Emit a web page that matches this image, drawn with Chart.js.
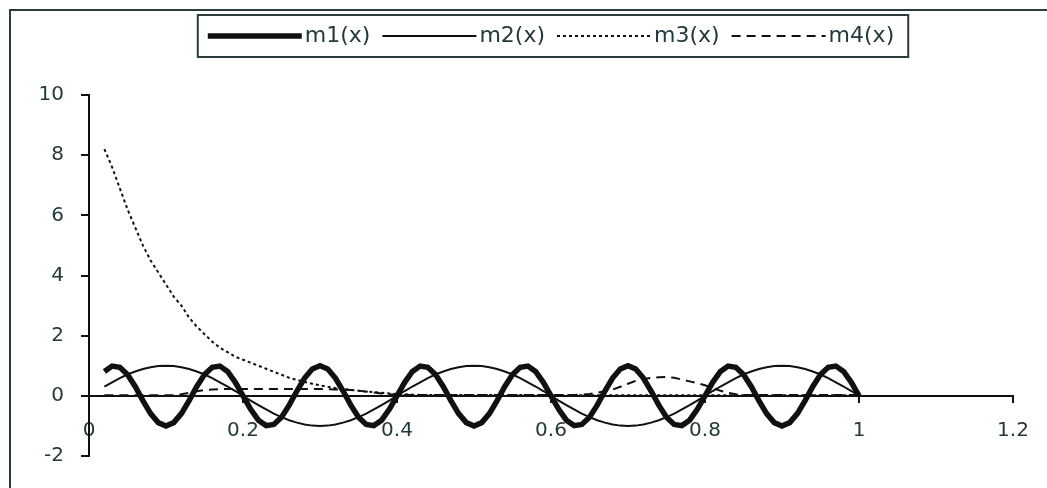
<!DOCTYPE html>
<html>
<head>
<meta charset="utf-8">
<script src="https://cdn.jsdelivr.net/npm/chart.js@4.4.1/dist/chart.umd.min.js"></script>
<style>
  html, body { margin: 0; padding: 0; background: #fff; overflow: hidden; }
  #frame { position: absolute; left: 9px; top: 9px; width: 1200px; height: 600px;
           border-left: 2px solid #2a3c3c; border-top: 2px solid #2a3c3c; }
  #wrap { position: absolute; left: 0; top: 0; width: 1047px; height: 488px; }
</style>
</head>
<body>
<div id="frame"></div>
<div id="wrap"><canvas id="lineChart"></canvas></div>
<script>

// DATA #######################################################################

var seriesNames = ["m1(x)", "m2(x)", "m3(x)", "m4(x)"];

var xs = [0.02, 0.03, 0.04, 0.05, 0.06, 0.07, 0.08, 0.09, 0.10, 0.11,
    0.12, 0.13, 0.14, 0.15, 0.16, 0.17, 0.18, 0.19, 0.20, 0.21,
    0.22, 0.23, 0.24, 0.25, 0.26, 0.27, 0.28, 0.29, 0.30, 0.31,
    0.32, 0.33, 0.34, 0.35, 0.36, 0.37, 0.38, 0.39, 0.40, 0.41,
    0.42, 0.43, 0.44, 0.45, 0.46, 0.47, 0.48, 0.49, 0.50, 0.51,
    0.52, 0.53, 0.54, 0.55, 0.56, 0.57, 0.58, 0.59, 0.60, 0.61,
    0.62, 0.63, 0.64, 0.65, 0.66, 0.67, 0.68, 0.69, 0.70, 0.71,
    0.72, 0.73, 0.74, 0.75, 0.76, 0.77, 0.78, 0.79, 0.80, 0.81,
    0.82, 0.83, 0.84, 0.85, 0.86, 0.87, 0.88, 0.89, 0.90, 0.91,
    0.92, 0.93, 0.94, 0.95, 0.96, 0.97, 0.98, 0.99, 1.00];

var m1 = [0.81, 0.99, 0.95, 0.71, 0.31, -0.16, -0.59, -0.89, -1, -0.89,
    -0.59, -0.16, 0.31, 0.71, 0.95, 0.99, 0.81, 0.45, 0, -0.45,
    -0.81, -0.99, -0.95, -0.71, -0.31, 0.16, 0.59, 0.89, 1, 0.89,
    0.59, 0.16, -0.31, -0.71, -0.95, -0.99, -0.81, -0.45, 0, 0.45,
    0.81, 0.99, 0.95, 0.71, 0.31, -0.16, -0.59, -0.89, -1, -0.89,
    -0.59, -0.16, 0.31, 0.71, 0.95, 0.99, 0.81, 0.45, 0, -0.45,
    -0.81, -0.99, -0.95, -0.71, -0.31, 0.16, 0.59, 0.89, 1, 0.89,
    0.59, 0.16, -0.31, -0.71, -0.95, -0.99, -0.81, -0.45, 0, 0.45,
    0.81, 0.99, 0.95, 0.71, 0.31, -0.16, -0.59, -0.89, -1, -0.89,
    -0.59, -0.16, 0.31, 0.71, 0.95, 0.99, 0.81, 0.45, 0];

var m2 = [0.31, 0.45, 0.59, 0.71, 0.81, 0.89, 0.95, 0.99, 1, 0.99,
    0.95, 0.89, 0.81, 0.71, 0.59, 0.45, 0.31, 0.16, 0, -0.16,
    -0.31, -0.45, -0.59, -0.71, -0.81, -0.89, -0.95, -0.99, -1, -0.99,
    -0.95, -0.89, -0.81, -0.71, -0.59, -0.45, -0.31, -0.16, 0, 0.16,
    0.31, 0.45, 0.59, 0.71, 0.81, 0.89, 0.95, 0.99, 1, 0.99,
    0.95, 0.89, 0.81, 0.71, 0.59, 0.45, 0.31, 0.16, 0, -0.16,
    -0.31, -0.45, -0.59, -0.71, -0.81, -0.89, -0.95, -0.99, -1, -0.99,
    -0.95, -0.89, -0.81, -0.71, -0.59, -0.45, -0.31, -0.16, 0, 0.16,
    0.31, 0.45, 0.59, 0.71, 0.81, 0.89, 0.95, 0.99, 1, 0.99,
    0.95, 0.89, 0.81, 0.71, 0.59, 0.45, 0.31, 0.16, 0];

var m3 = [8.2, 7.6, 6.9, 6.2, 5.6, 5.0, 4.5, 4.1, 3.7, 3.3,
    3.0, 2.6, 2.3, 2.05, 1.8, 1.6, 1.45, 1.3, 1.2, 1.1,
    1.0, 0.9, 0.8, 0.7, 0.6, 0.53, 0.46, 0.4, 0.35, 0.3,
    0.26, 0.23, 0.2, 0.17, 0.14, 0.12, 0.1, 0.08, 0.06, 0.05,
    0.04, 0.03, 0.03, 0.03, 0.03, 0.03, 0.03, 0.03, 0.03, 0.03,
    0.03, 0.03, 0.03, 0.03, 0.03, 0.03, 0.03, 0.03, 0.03, 0.02,
    0.02, 0.02, 0.02, 0.02, 0.02, 0.02, 0.02, 0.02, 0.02, 0.02,
    0.02, 0.02, 0.02, 0.02, 0.02, 0.02, 0.02, 0.02, 0.02, 0.02,
    0.02, 0.02, 0.02, 0.02, 0.02, 0.02, 0.02, 0.02, 0.02, 0.02,
    0.02, 0.02, 0.02, 0.02, 0.02, 0.02, 0.02, 0.02, 0.02];

var m4 = [0.02, 0.02, 0.02, 0.02, 0.02, 0.02, 0.02, 0.02, 0.02, 0.02,
    0.05, 0.1, 0.15, 0.19, 0.21, 0.22, 0.23, 0.23, 0.23, 0.23,
    0.23, 0.23, 0.23, 0.23, 0.23, 0.23, 0.23, 0.23, 0.23, 0.22,
    0.21, 0.2, 0.19, 0.17, 0.14, 0.11, 0.08, 0.05, 0.03, 0.03,
    0.03, 0.03, 0.03, 0.03, 0.03, 0.03, 0.03, 0.03, 0.03, 0.03,
    0.03, 0.03, 0.03, 0.03, 0.03, 0.03, 0.03, 0.03, 0.03, 0.03,
    0.03, 0.03, 0.04, 0.06, 0.1, 0.15, 0.21, 0.3, 0.4, 0.5,
    0.56, 0.6, 0.62, 0.63, 0.6, 0.54, 0.48, 0.42, 0.35, 0.26,
    0.17, 0.1, 0.05, 0.03, 0.03, 0.03, 0.03, 0.03, 0.03, 0.03,
    0.03, 0.03, 0.03, 0.03, 0.03, 0.03, 0.03, 0.03, 0.03];

var xTicks = { min: 0, max: 1.2, step: 0.2 };
var yTicks = { min: -2, max: 10, step: 2 };


// CHART ######################################################################

var ink = "#111";
var textInk = "#243a3a";
var legendFont = 22;
var sampleWidth = 86;

function points(ys) {
    return xs.map(function (x, i) { return { x: x, y: ys[i] }; });
}

function line(label, ys, width, dash) {
    return {
        label: label,
        data: points(ys),
        borderColor: ink,
        backgroundColor: ink,
        borderWidth: width,
        borderDash: dash,
        pointRadius: 0,
        tension: 0
    };
}

// legend items keep their place, but the sample lines are drawn below
function legendLabels(chart) {
    var items = Chart.defaults.plugins.legend.labels.generateLabels(chart);
    items.forEach(function (item) {
        item.fillStyle = "rgba(0,0,0,0)";
        item.strokeStyle = "rgba(0,0,0,0)";
        item.lineWidth = 0;
    });
    return items;
}

// box around the legend and line samples, drawn from the legend's hit boxes
var legendFrame = {
    id: "legendFrame",
    beforeInit: function (chart) {
        var fit = chart.legend.fit;
        chart.legend.fit = function () {
            fit.call(this);
            this.height += 38;
        };
    },
    afterDraw: function (chart) {
        var boxes = chart.legend.legendHitBoxes;
        if (!boxes || !boxes.length) return;
        var left = Math.min.apply(null, boxes.map(function (b) { return b.left; }));
        var right = Math.max.apply(null, boxes.map(function (b) { return b.left + b.width; }));
        var top = boxes[0].top, bottom = boxes[0].top + boxes[0].height;
        var ctx = chart.ctx;
        ctx.save();
        ctx.strokeStyle = "#2a3c3c";
        ctx.lineWidth = 2;
        ctx.strokeRect(left - 10, top - 10, right - left + 24, bottom - top + 20);
        boxes.forEach(function (b, i) {
            var ds = chart.data.datasets[i];
            var y = b.top + b.height / 2;
            ctx.beginPath();
            ctx.setLineDash(ds.borderDash || []);
            ctx.lineWidth = ds.borderWidth;
            ctx.strokeStyle = ds.borderColor;
            ctx.moveTo(b.left, y);
            ctx.lineTo(b.left + sampleWidth + legendFont / 2 - 3, y);
            ctx.stroke();
        });
        ctx.restore();
    }
};

var ctx_line = document.getElementById("lineChart");
var myLineGraph = new Chart(ctx_line, {
    type: "line",
    data: {
        datasets: [
            line(seriesNames[0], m1, 5.5, []),
            line(seriesNames[1], m2, 2, []),
            line(seriesNames[2], m3, 2, [3, 3]),
            line(seriesNames[3], m4, 2, [9, 6])
        ]
    },
    options: {
        responsive: true,
        maintainAspectRatio: false,
        animation: false,
        layout: { padding: { left: 29, right: 34, top: 13, bottom: 32 } },
        plugins: {
            tooltip: { enabled: false },
            legend: {
                position: "top",
                fullSize: false,
                labels: {
                    boxWidth: sampleWidth,
                    boxHeight: legendFont,
                    padding: 12,
                    color: textInk,
                    font: { family: "'DejaVu Sans'", size: legendFont },
                    generateLabels: legendLabels
                }
            }
        },
        scales: {
            x: {
                type: "linear",
                position: { y: 0 },
                min: xTicks.min,
                max: xTicks.max,
                ticks: {
                    stepSize: xTicks.step,
                    padding: 17,
                    color: textInk,
                    font: { family: "'DejaVu Sans'", size: 20 },
                    callback: function (v) { return String(Math.round(v * 10) / 10); }
                },
                grid: { drawOnChartArea: false, drawTicks: true, tickLength: 6, color: ink, lineWidth: 2 },
                border: { display: true, color: ink, width: 2 }
            },
            y: {
                type: "linear",
                min: yTicks.min,
                max: yTicks.max,
                afterFit: function (scale) { scale.width = 60; },
                ticks: {
                    stepSize: yTicks.step,
                    padding: 17,
                    color: textInk,
                    font: { family: "'DejaVu Sans'", size: 20 }
                },
                grid: { drawOnChartArea: false, drawTicks: true, tickLength: 8, color: ink, lineWidth: 2 },
                border: { display: true, color: ink, width: 2 }
            }
        }
    },
    plugins: [legendFrame]
});
</script>
</body>
</html>
